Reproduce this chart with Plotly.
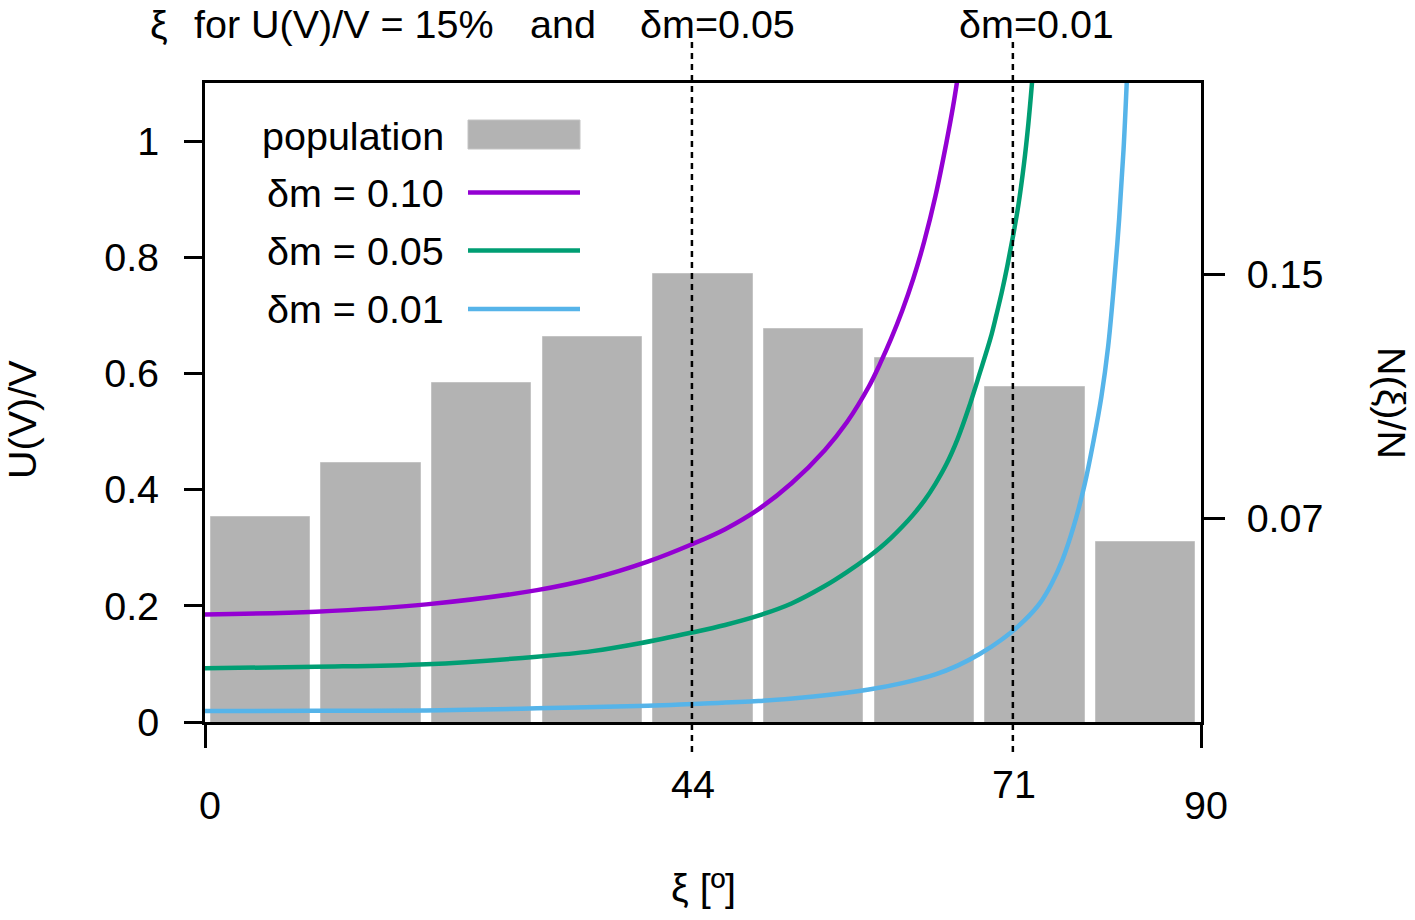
import plotly.graph_objects as go

# ---------------- data ----------------
bin_centers = [5, 15, 25, 35, 45, 55, 65, 75, 85]
population = [0.0705, 0.0882, 0.1144, 0.1295, 0.1501, 0.1322, 0.1227, 0.1130, 0.0622]

xi_dm10 = [0, 10, 20, 30, 35, 40, 44, 47, 50, 53, 56, 58, 60, 61, 62, 63, 64, 65, 66, 67, 67.6, 68.1]
u_dm10 = [0.185, 0.190, 0.2025, 0.227, 0.247, 0.276, 0.306, 0.332, 0.366, 0.411, 0.468, 0.516,
          0.578, 0.617, 0.660, 0.708, 0.763, 0.828, 0.905, 0.998, 1.06, 1.12]

xi_dm05 = [0, 10, 20, 30, 35, 39.3, 44, 47, 50, 53, 56, 58, 60, 61, 62, 63, 64, 65, 66, 67, 68, 69,
           70, 71, 71.5, 72, 72.5, 73, 73.5, 74, 74.4, 74.75]
u_dm05 = [0.0924, 0.095, 0.0994, 0.1124, 0.122, 0.1355, 0.154, 0.167, 0.183, 0.204, 0.234, 0.258,
          0.285, 0.300, 0.317, 0.336, 0.357, 0.381, 0.410, 0.444, 0.487, 0.540, 0.600, 0.662, 0.700,
          0.740, 0.785, 0.835, 0.890, 0.960, 1.030, 1.105]

xi_dm01 = [0, 10, 20, 30, 40, 44, 50, 55, 60, 63, 66, 68, 70, 72, 74, 75.5, 76.5, 77.5, 78.5, 79.5,
           80.3, 81, 81.6, 82.1, 82.6, 83, 83.3]
u_dm01 = [0.0189, 0.0192, 0.020, 0.0235, 0.028, 0.031, 0.036, 0.044, 0.056, 0.067, 0.082, 0.097,
          0.117, 0.142, 0.174, 0.206, 0.238, 0.280, 0.337, 0.410, 0.485, 0.560, 0.645, 0.745, 0.865,
          0.985, 1.105]

series_names = ["δm = 0.10", "δm = 0.05", "δm = 0.01"]
series_colors = ["#9400d3", "#009e73", "#56b4e9"]

left_tick_vals = [0, 0.2, 0.4, 0.6, 0.8, 1.0]
left_tick_text = ["0", "0.2", "0.4", "0.6", "0.8", "1"]
right_tick_vals = [0.07, 0.15]
right_tick_text = ["0.07", "0.15"]
x_tick_vals = [0, 44, 73, 90]
x_tick_text = ["0", "44", "71", "90"]
marker_lines = [44, 73]
marker_labels = ["δm=0.05", "δm=0.01"]

# ---------------- geometry helpers ----------------
W, H = 1415, 920
L, R, T, B = 205, 1201, 83, 722
FONT = "Liberation Sans, Arial, sans-serif"
FS = 39.5


def px(x):
    return (x - L) / (R - L)


def py(y):
    return (B - y) / (B - T)


fig = go.Figure()

# bars on the (right-hand) primary axis so the curves draw on top
fig.add_trace(go.Bar(
    x=bin_centers, y=population, width=9, yaxis="y", name="population",
    marker=dict(color="#b3b3b3", line=dict(color="#c4c4c4", width=1)),
    showlegend=False,
))

for xs, ys, name, col in zip([xi_dm10, xi_dm05, xi_dm01], [u_dm10, u_dm05, u_dm01],
                             series_names, series_colors):
    fig.add_trace(go.Scatter(
        x=xs, y=ys, mode="lines", name=name, yaxis="y2",
        line=dict(color=col, width=4.5, shape="spline", smoothing=1.0),
        showlegend=False,
    ))

shapes = []
# dashed vertical marker lines
for xv in marker_lines:
    shapes.append(dict(type="line", xref="x", yref="paper", x0=xv, x1=xv,
                       y0=py(752), y1=py(40), layer="above",
                       line=dict(color="black", width=2.5, dash="6px,5px")))

# manual gnuplot-style legend samples
shapes.append(dict(type="rect", xref="paper", yref="paper", x0=px(468), x1=px(580),
                   y0=py(149), y1=py(120), fillcolor="#b3b3b3",
                   line=dict(color="#c4c4c4", width=1)))
for yy, col in zip([192.5, 250.5, 309], series_colors):
    shapes.append(dict(type="line", xref="paper", yref="paper", x0=px(468), x1=px(580),
                       y0=py(yy), y1=py(yy), line=dict(color=col, width=4.5)))

annotations = []
legend_texts = ["population"] + series_names
for txt, yy in zip(legend_texts, [136, 193, 251, 309]):
    annotations.append(dict(text=txt, xref="paper", yref="paper", x=px(446), y=py(yy),
                            xanchor="right", yanchor="middle", showarrow=False,
                            font=dict(family=FONT, size=FS, color="black")))

# x tick labels (0 and 90 are placed lower than 44 and 71)
for xv, txt in zip(x_tick_vals, x_tick_text):
    ycen = 805 if txt in ("0", "90") else 784
    shift = 5 if txt in ("0", "90") else 1
    annotations.append(dict(text=txt, xref="x", yref="paper", x=xv, y=py(ycen), xshift=shift,
                            xanchor="center", yanchor="middle", showarrow=False,
                            font=dict(family=FONT, size=FS, color="black")))

# top labels
top_items = [("ξ", 149), ("for U(V)/V = 15%", 193), ("and", 529),
             (marker_labels[0], 639), (marker_labels[1], 958)]
for txt, xl in top_items:
    annotations.append(dict(text=txt, xref="paper", yref="paper", x=px(xl), y=py(1),
                            xanchor="left", yanchor="top", showarrow=False, borderpad=0,
                            font=dict(family=FONT, size=FS, color="black")))

# axis titles
annotations.append(dict(text="ξ [º]", xref="paper", yref="paper", x=px(703), y=py(887),
                        xanchor="center", yanchor="middle", showarrow=False,
                        font=dict(family=FONT, size=FS, color="black")))
annotations.append(dict(text="U(V)/V", xref="paper", yref="paper", x=px(22), y=py(420),
                        xanchor="center", yanchor="middle", showarrow=False, textangle=-90,
                        font=dict(family=FONT, size=FS, color="black")))
annotations.append(dict(text="N(ξ)/N", xref="paper", yref="paper", x=px(1392), y=py(403),
                        xanchor="center", yanchor="middle", showarrow=False, textangle=90,
                        font=dict(family=FONT, size=FS, color="black")))

fig.update_layout(
    width=W, height=H,
    margin=dict(l=L, r=W - R, t=T, b=H - B, pad=0),
    paper_bgcolor="white", plot_bgcolor="white",
    font=dict(family=FONT, size=FS, color="black"),
    bargap=0,
    showlegend=False,
    shapes=shapes, annotations=annotations,
    xaxis=dict(range=[0, 90], showgrid=False, zeroline=False, showline=True, mirror=True,
               linecolor="black", linewidth=2.5, ticks="outside", tickvals=[0, 90],
               ticklen=23, tickwidth=2.5, tickcolor="black", showticklabels=False),
    # primary axis: population (drawn on the right)
    yaxis=dict(range=[0.00328, 0.2128], side="right", showgrid=False, zeroline=False,
               showline=True, mirror=True, linecolor="black", linewidth=2.5,
               ticks="outside", tickvals=right_tick_vals, ticktext=right_tick_text,
               ticklen=21, tickwidth=2.5, tickcolor="black", ticklabelstandoff=14,
               tickfont=dict(family=FONT, size=FS, color="black")),
    # overlay axis: U(V)/V (drawn on the left)
    yaxis2=dict(range=[0, 1.1], overlaying="y", side="left", showgrid=False, zeroline=False,
                showline=False, ticks="outside", tickvals=left_tick_vals,
                ticktext=left_tick_text, ticklen=20, tickwidth=2.5, tickcolor="black",
                ticklabelstandoff=17, tickfont=dict(family=FONT, size=FS, color="black")),
)

fig.write_html("out.html")
